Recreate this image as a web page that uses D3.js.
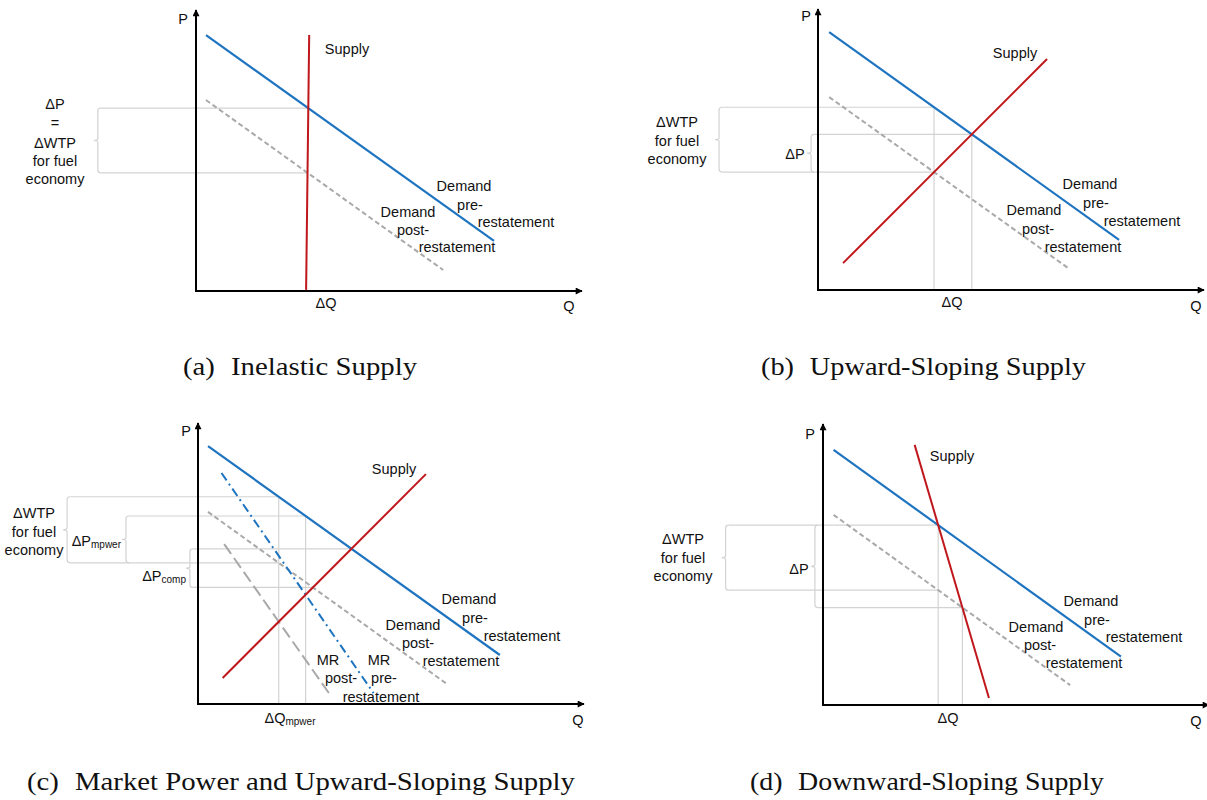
<!DOCTYPE html>
<html><head><meta charset="utf-8">
<script src="https://cdn.jsdelivr.net/npm/d3@7/dist/d3.min.js"></script>
<style>
body{margin:0;background:#fff}
.lbl{font-family:"Liberation Sans",Arial,sans-serif;font-size:14.5px;fill:#111}
.cap{font-family:"Liberation Serif","DejaVu Serif",serif;font-size:25px;fill:#111}
</style>
</head><body>
<svg id="chart" width="1207" height="800"></svg>
<script>
// ---------- DATA (Q and P on 0-100 scales) ----------
// Panel (a) Inelastic Supply
const demandPreA  = [[2.6,91.4],[77.4,17.9]];
const demandPostA = [[2.6,68.2],[64.2,7.5]];
const supplyA     = [[29.4,91.4],[28.6,0.4]];
// Panel (b) Upward-Sloping Supply
const demandPreB  = [[2.9,92.1],[78.2,17.9]];
const demandPostB = [[2.9,68.9],[64.9,7.9]];
const supplyB     = [[6.5,9.6],[59.5,82.5]];
// Panel (c) Market Power and Upward-Sloping Supply
const demandPreC  = [[2.6,92.1],[78.4,17.5]];
const demandPostC = [[2.6,68.6],[64.7,7.1]];
const mrPreC      = [[6.1,82.5],[45.6,3.9]];
const mrPostC     = [[6.8,57.1],[34.0,3.9]];
const supplyC     = [[6.4,9.3],[59.2,82.1]];
// Panel (d) Downward-Sloping Supply
const demandPreD  = [[2.75,91.1],[77.4,17.3]];
const demandPostD = [[2.75,67.9],[64.2,7.1]];
const supplyD     = [[23.8,92.9],[43.1,2.5]];
// Captions
const captions = [
  ["(a)","Inelastic Supply"],
  ["(b)","Upward-Sloping Supply"],
  ["(c)","Market Power and Upward-Sloping Supply"],
  ["(d)","Downward-Sloping Supply"]
];

// ---------- HELPERS ----------
const svg = d3.select("#chart");
const xS = d3.scaleLinear().domain([0,100]).range([0,385]);
const yS = d3.scaleLinear().domain([0,100]).range([0,-280]);
const lineGen = d3.line().x(d=>xS(d[0])).y(d=>yS(d[1]));

const COL = {blue:"#1f74c0", red:"#c0171c", gray:"#a9a9a9", guide:"#d3d3d3"};

svg.append("defs").append("marker")
  .attr("id","arr").attr("viewBox","0 0 10 10").attr("refX",9).attr("refY",5)
  .attr("markerUnits","userSpaceOnUse").attr("markerWidth",9).attr("markerHeight",7)
  .attr("orient","auto")
  .append("path").attr("d","M0,0L10,5L0,10z").attr("fill","#000");

function slopeIntercept(l){ const m=(l[1][1]-l[0][1])/(l[1][0]-l[0][0]); return [m, l[0][1]-m*l[0][0]]; }
function pAt(l,q){ const [m,b]=slopeIntercept(l); return m*q+b; }
function cross(l1,l2){
  const [x1,y1]=l1[0],[x2,y2]=l1[1],[x3,y3]=l2[0],[x4,y4]=l2[1];
  const den=(x1-x2)*(y3-y4)-(y1-y2)*(x3-x4);
  const t=((x1-x3)*(y3-y4)-(y1-y3)*(x3-x4))/den;
  return [x1+t*(x2-x1), y1+t*(y2-y1)];
}

function panel(ox,oy){
  const g = svg.append("g").attr("transform",`translate(${ox},${oy})`);
  g.guides = g.append("g");
  g.curves = g.append("g");
  const ax = g.append("g").call(d3.axisBottom(xS).tickValues([]).tickSizeOuter(0));
  ax.select(".domain").attr("d",`M${xS(0)},0H${xS(100)+1}`).attr("stroke","#000").attr("stroke-width",2).attr("marker-end","url(#arr)");
  const ay = g.append("g").call(d3.axisLeft(yS).tickValues([]).tickSizeOuter(0));
  ay.select(".domain").attr("d",`M0,${yS(0)+1}V${yS(100)-1}`).attr("stroke","#000").attr("stroke-width",2).attr("marker-end","url(#arr)");
  return g;
}
function curve(g,data,color,dash,w){
  g.curves.append("path").attr("d",lineGen(data)).attr("fill","none")
    .attr("stroke",color).attr("stroke-width",w||2.2).attr("stroke-dasharray",dash||null);
}
function hGuide(g,q0,q1,p){
  g.guides.append("line").attr("x1",xS(q0)).attr("x2",xS(q1)).attr("y1",yS(p)).attr("y2",yS(p))
    .attr("stroke",COL.guide).attr("stroke-width",1.2);
}
function vGuide(g,q,p){
  g.guides.append("line").attr("x1",xS(q)).attr("x2",xS(q)).attr("y1",yS(p)).attr("y2",yS(0))
    .attr("stroke",COL.guide).attr("stroke-width",1.2);
}
function bracket(g,q,p1,p2){
  const x=xS(q), y1=yS(p1), y2=yS(p2), ym=(y1+y2)/2, r=3;
  g.guides.append("path")
    .attr("d",`M${x+r},${y1}Q${x},${y1} ${x},${y1+r}V${ym-2}Q${x},${ym} ${x-4},${ym}Q${x},${ym} ${x},${ym+2}V${y2-r}Q${x},${y2} ${x+r},${y2}`)
    .attr("fill","none").attr("stroke",COL.guide).attr("stroke-width",1.2);
}
function label(t,x,y,anchor){
  return svg.append("text").attr("class","lbl").attr("x",x).attr("y",y).attr("dy","0.35em")
    .attr("text-anchor",anchor||"middle").text(t);
}
function subLabel(main,sub,x,y,anchor){
  const t=svg.append("text").attr("class","lbl").attr("x",x).attr("y",y).attr("dy","0.35em")
    .attr("text-anchor",anchor||"middle");
  t.append("tspan").text(main);
  t.append("tspan").attr("font-size","10px").attr("dy","2").text(sub);
  return t;
}
function caption(c,xStart,cy,len){
  const t=svg.append("text").attr("class","cap").attr("x",xStart).attr("y",cy).attr("dy","0.35em")
    .attr("text-anchor","start").attr("textLength",len).attr("lengthAdjust","spacingAndGlyphs");
  t.append("tspan").text(c[0]);
  t.append("tspan").attr("dx","14").text(c[1]);
}

// ---------- PANEL A ----------
{
  const g=panel(196,291);
  const T=cross(supplyA,demandPreA), B=cross(supplyA,demandPostA);
  const bq=-25.5;
  hGuide(g,bq+0.8,T[0],T[1]); hGuide(g,bq+0.8,B[0],B[1]);
  bracket(g,bq,T[1],B[1]);
  curve(g,demandPostA,COL.gray,"5,3",2);
  curve(g,demandPreA,COL.blue);
  curve(g,supplyA,COL.red,null,2);
  [["P",183,19],["Q",569,306],["ΔQ",326,303],["Supply",347,49],
   ["Demand",464,186],["pre-",470,205],["restatement",516,222],
   ["Demand",408,212],["post-",413,230],["restatement",457,247],
   ["ΔP",55,104],["=",55,123],["ΔWTP",55,143],["for fuel",55,161],["economy",55,179]
  ].forEach(d=>label(d[0],d[1],d[2]));
}
// ---------- PANEL B ----------
{
  const g=panel(818,290);
  const T=cross(supplyB,demandPreB), B=cross(supplyB,demandPostB);
  const Wp=pAt(demandPreB,B[0]);
  const bq1=-25.7,bq2=-1.8;
  hGuide(g,bq1+0.8,B[0],Wp); hGuide(g,bq1+0.8,B[0],B[1]); hGuide(g,bq2+0.8,T[0],T[1]);
  vGuide(g,B[0],Wp); vGuide(g,T[0],T[1]);
  bracket(g,bq1,Wp,B[1]); bracket(g,bq2,T[1],B[1]);
  curve(g,demandPostB,COL.gray,"5,3",2);
  curve(g,demandPreB,COL.blue);
  curve(g,supplyB,COL.red,null,2);
  [["P",806,16],["Q",1196,306],["ΔQ",952,302],["Supply",1015,53],
   ["Demand",1090,184],["pre-",1096,203],["restatement",1142,221],
   ["Demand",1034,210],["post-",1038,229],["restatement",1083,247],
   ["ΔWTP",677,122],["for fuel",677,141],["economy",677,159],["ΔP",795,154]
  ].forEach(d=>label(d[0],d[1],d[2]));
}
// ---------- PANEL C ----------
{
  const g=panel(198,704);
  const M1=cross(mrPostC,supplyC), M2=cross(mrPreC,supplyC);
  const W1=pAt(demandPreC,M1[0]), W0=pAt(demandPostC,M1[0]), W2=pAt(demandPreC,M2[0]);
  const C1=cross(demandPreC,supplyC), C0=cross(demandPostC,supplyC);
  const b1=-34,b2=-18.7,b3=-2.1;
  hGuide(g,b1+0.8,M1[0],W1); hGuide(g,b1+0.8,M1[0],W0);
  hGuide(g,b2+0.8,M2[0],W2);
  hGuide(g,b3+0.8,C1[0],C1[1]); hGuide(g,b3+0.8,C0[0],C0[1]);
  vGuide(g,M1[0],W1); vGuide(g,M2[0],W2);
  bracket(g,b1,W1,W0); bracket(g,b2,W2,W0); bracket(g,b3,C1[1],C0[1]);
  curve(g,demandPostC,COL.gray,"5,3",2);
  curve(g,mrPostC,COL.gray,"12,5",2);
  curve(g,demandPreC,COL.blue);
  curve(g,mrPreC,COL.blue,"9,4,2,4",2);
  curve(g,supplyC,COL.red,null,2);
  [["P",186,431],["Q",578,720],["Supply",394,469],
   ["Demand",469,599],["pre-",475,618],["restatement",522,636],
   ["Demand",413,625],["post-",418,643],["restatement",461,661],
   ["MR",328,660],["post-",341,678],["MR",379,660],["pre-",384,678],["restatement",381,697],
   ["ΔWTP",34,513],["for fuel",34,532],["economy",34,550]
  ].forEach(d=>label(d[0],d[1],d[2]));
  subLabel("ΔP","mpwer",121,541,"end");
  subLabel("ΔP","comp",186,576,"end");
  subLabel("ΔQ","mpwer",290,718,"middle");
}
// ---------- PANEL D ----------
{
  const g=panel(823,705);
  const T=cross(supplyD,demandPreD), B=cross(supplyD,demandPostD);
  const W0=pAt(demandPostD,T[0]);
  const bq1=-25.3,bq2=-2.1;
  hGuide(g,bq1+0.8,T[0],T[1]); hGuide(g,bq1+0.8,T[0],W0); hGuide(g,bq2+0.8,B[0],B[1]);
  vGuide(g,T[0],T[1]); vGuide(g,B[0],B[1]);
  bracket(g,bq1,T[1],W0); bracket(g,bq2,T[1],B[1]);
  curve(g,demandPostD,COL.gray,"5,3",2);
  curve(g,demandPreD,COL.blue);
  curve(g,supplyD,COL.red,null,2);
  [["P",810,434],["Q",1196,721],["ΔQ",948,718],["Supply",952,456],
   ["Demand",1091,601],["pre-",1097,620],["restatement",1144,637],
   ["Demand",1036,627],["post-",1040,645],["restatement",1084,663],
   ["ΔWTP",683,539],["for fuel",683,558],["economy",683,576],["ΔP",799,569]
  ].forEach(d=>label(d[0],d[1],d[2]));
}
// ---------- CAPTIONS ----------
caption(captions[0],183,366,234);
caption(captions[1],761,366,325);
caption(captions[2],27,781,548);
caption(captions[3],750,781,354);
</script>
</body></html>
